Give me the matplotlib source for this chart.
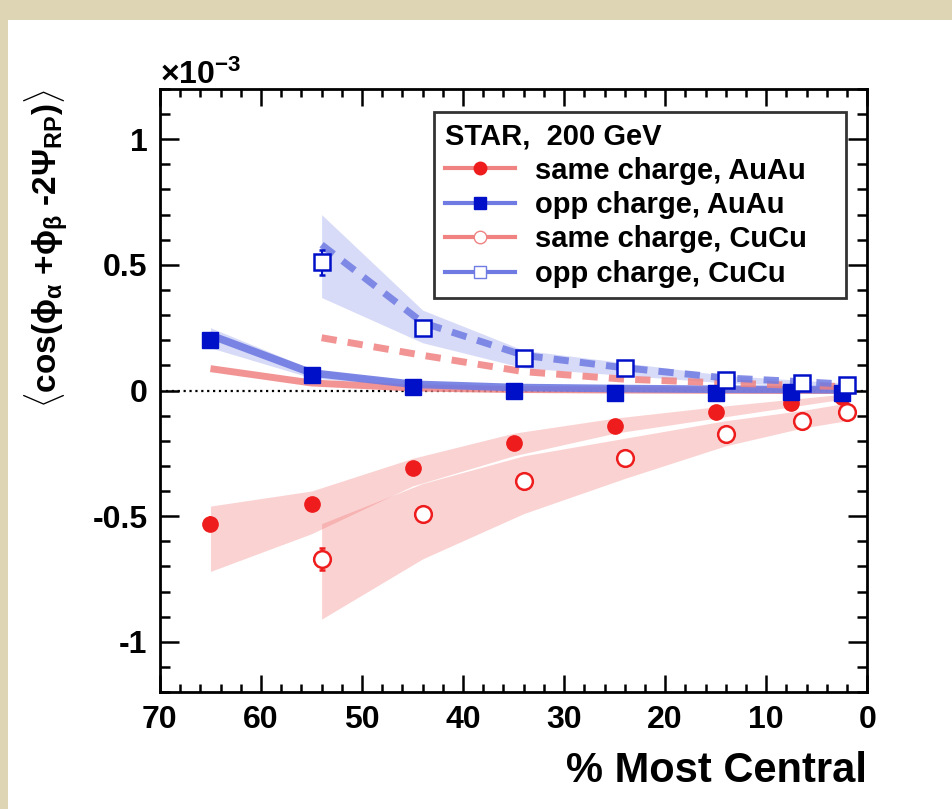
import matplotlib
matplotlib.use('Agg')
import matplotlib.pyplot as plt
from matplotlib.lines import Line2D
from matplotlib.patches import Rectangle

plt.rcParams['font.family'] = ['Liberation Sans', 'DejaVu Sans']
plt.rcParams['font.weight'] = 'bold'
plt.rcParams['axes.labelweight'] = 'bold'
plt.rcParams['mathtext.fontset'] = 'custom'
plt.rcParams['mathtext.rm'] = 'Liberation Sans:bold'
plt.rcParams['mathtext.it'] = 'Liberation Sans:bold'
plt.rcParams['mathtext.bf'] = 'Liberation Sans:bold'

# centrality bin centres (CuCu shifted by 1 for visibility)
cent_auau = [65, 55, 45, 35, 25, 15, 7.5, 2.5]
cent_cucu = [54, 44, 34, 24, 14, 6.5, 2]

# data points (x 1e-3)
same_auau = [-0.53, -0.45, -0.31, -0.21, -0.14, -0.085, -0.05, -0.025]
same_auau_err = [0.03, 0.01, 0.01, 0.008, 0.006, 0.005, 0.005, 0.005]
opp_auau = [0.20, 0.06, 0.015, -0.003, -0.01, -0.01, -0.007, -0.01]
opp_auau_err = [0.03, 0.01, 0.01, 0.008, 0.006, 0.005, 0.005, 0.005]
same_cucu = [-0.67, -0.49, -0.36, -0.27, -0.175, -0.12, -0.085]
same_cucu_err = [0.045, 0.02, 0.015, 0.01, 0.01, 0.008, 0.008]
opp_cucu = [0.51, 0.25, 0.13, 0.09, 0.04, 0.03, 0.02]
opp_cucu_err = [0.05, 0.02, 0.015, 0.01, 0.01, 0.008, 0.008]

# thick lines
same_auau_line = [0.087, 0.03, 0.01, 0.004, 0.002, 0.001, 0.0, 0.0]
opp_auau_line = [0.22, 0.07, 0.025, 0.012, 0.008, 0.005, 0.004, 0.003]
same_cucu_line = [0.21, 0.14, 0.075, 0.045, 0.03, 0.02, 0.015]
opp_cucu_line = [0.58, 0.27, 0.14, 0.09, 0.05, 0.035, 0.025]

# systematic bands
same_auau_hi = [-0.46, -0.40, -0.27, -0.17, -0.11, -0.065, -0.035, -0.015]
same_auau_lo = [-0.72, -0.57, -0.38, -0.26, -0.17, -0.11, -0.065, -0.035]
same_cucu_hi = [-0.53, -0.37, -0.26, -0.19, -0.12, -0.08, -0.05]
same_cucu_lo = [-0.91, -0.67, -0.49, -0.35, -0.22, -0.15, -0.12]
opp_auau_hi = [0.25, 0.085, 0.035, 0.018, 0.012, 0.008, 0.006, 0.005]
opp_auau_lo = [0.17, 0.05, 0.015, 0.005, 0.003, 0.002, 0.001, 0.0]
opp_cucu_hi = [0.70, 0.32, 0.16, 0.11, 0.06, 0.04, 0.03]
opp_cucu_lo = [0.37, 0.19, 0.09, 0.06, 0.03, 0.02, 0.01]

RED = '#ee1c1c'
BLUE = '#0010c8'
LRED = '#f08282'
LBLUE = '#6f7ae2'

fig = plt.figure(figsize=(9.52, 8.09), dpi=100)
fig.patch.set_facecolor('#ddd5b4')
fig.patches.append(Rectangle((8 / 952, 0), 1, 1 - 20 / 809, transform=fig.transFigure,
                             facecolor='white', edgecolor='none', zorder=-10))

ax = fig.add_axes([0.168, 0.1446, 0.743, 0.7454])
ax.set_zorder(1)

ax.fill_between(cent_auau, same_auau_lo, same_auau_hi, color='#f06060', alpha=0.28, lw=0)
ax.fill_between(cent_cucu, same_cucu_lo, same_cucu_hi, color='#f06060', alpha=0.28, lw=0)
ax.fill_between(cent_auau, opp_auau_lo, opp_auau_hi, color='#6070e0', alpha=0.25, lw=0)
ax.fill_between(cent_cucu, opp_cucu_lo, opp_cucu_hi, color='#6070e0', alpha=0.25, lw=0)

ax.axhline(0, color='k', ls=':', lw=1.6, zorder=1)

ax.plot(cent_auau, same_auau_line, color=LRED, lw=5, alpha=0.85, solid_capstyle='butt')
ax.plot(cent_auau, opp_auau_line, color=LBLUE, lw=5.5, alpha=0.9, solid_capstyle='butt')
ax.plot(cent_cucu, same_cucu_line, color=LRED, lw=5, ls=(0, (2.2, 1.6)), alpha=0.85)
ax.plot(cent_cucu, opp_cucu_line, color=LBLUE, lw=5, ls=(0, (2.2, 1.6)), alpha=0.85)

ax.errorbar(cent_auau, same_auau, yerr=same_auau_err, fmt='o', color=RED, ms=11,
            elinewidth=1.5, capsize=0, zorder=5)
ax.errorbar(cent_auau, opp_auau, yerr=opp_auau_err, fmt='s', color=BLUE, ms=11,
            elinewidth=1.5, capsize=0, zorder=5)
ax.errorbar(cent_cucu, same_cucu, yerr=same_cucu_err, fmt='o', color=RED, mfc='white',
            mec=RED, mew=1.8, ms=12, elinewidth=1.5, capsize=2, zorder=5)
ax.errorbar(cent_cucu, opp_cucu, yerr=opp_cucu_err, fmt='s', color=BLUE, mfc='white',
            mec=BLUE, mew=1.8, ms=12, elinewidth=1.5, capsize=2, zorder=5)

ax.set_xlim(70, 0)
ax.set_ylim(-1.2, 1.2)
ax.set_xticks([70, 60, 50, 40, 30, 20, 10, 0])
ax.set_xticks(range(0, 71, 2), minor=True)
ax.set_yticks([-1, -0.5, 0, 0.5, 1])
ax.set_yticklabels(['-1', '-0.5', '0', '0.5', '1'])
ax.set_yticks([i / 10 for i in range(-12, 13)], minor=True)
ax.tick_params(which='both', direction='in', top=True, right=True, width=1.8,
               labelsize=23, pad=9)
ax.tick_params(which='major', axis='y', length=14)
ax.tick_params(which='minor', axis='y', length=7)
ax.tick_params(which='major', axis='x', length=12)
ax.tick_params(which='minor', axis='x', length=6)
for s in ax.spines.values():
    s.set_linewidth(2)

ax.set_xlabel('% Most Central', fontsize=30, fontweight='bold', loc='right', labelpad=12)
ax.set_ylabel(r'$\langle$cos($\phi_{\alpha}$ +$\phi_{\beta}$ -2$\Psi_{\rm RP}$)$\rangle$',
              fontsize=24, fontweight='bold', loc='top', labelpad=16)
ax.text(0.0, 0.996, r'$\times$10$^{-3}$', transform=ax.transAxes, fontsize=23,
        ha='left', va='bottom')

handles = [
    Line2D([], [], color=LRED, lw=3, marker='o', mfc=RED, mec=RED, ms=9),
    Line2D([], [], color=LBLUE, lw=3, marker='s', mfc=BLUE, mec=BLUE, ms=9),
    Line2D([], [], color=LRED, lw=3, marker='o', mfc='white', mec=LRED, ms=9),
    Line2D([], [], color=LBLUE, lw=3, marker='s', mfc='white', mec=LBLUE, ms=9),
]
labels = ['same charge, AuAu', 'opp charge, AuAu', 'same charge, CuCu', 'opp charge, CuCu']
leg = ax.legend(handles, labels, loc='upper left', bbox_to_anchor=(0.388, 0.657, 0.582, 0.305),
                mode='expand', title='STAR,  200 GeV', alignment='left', fontsize=21,
                title_fontproperties={'size': 21, 'weight': 'bold'},
                frameon=True, fancybox=False, edgecolor='black', handlelength=2.4,
                borderaxespad=0, labelspacing=0.22, handletextpad=0.7, borderpad=0.35)
leg.get_frame().set_linewidth(2)

fig.savefig('out.png', dpi=100, facecolor=fig.get_facecolor())
